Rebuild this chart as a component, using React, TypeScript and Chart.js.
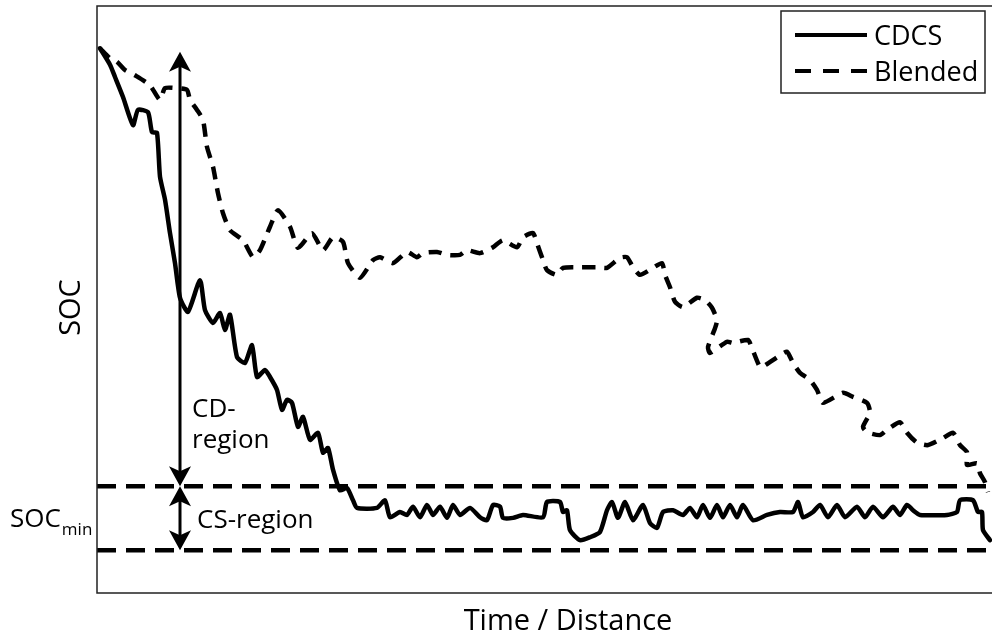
import { useEffect, useRef } from "react";
import { Chart, registerables } from "chart.js";

Chart.register(...registerables);

// Charge-depleting / charge-sustaining strategy (solid) vs. blended strategy (dashed)
const cdcsTime = [
  3, 13, 18, 26, 36, 41, 51, 55, 60, 63, 68, 73, 78, 83, 91, 103, 108, 116, 123, 128, 133,
  140, 148, 155, 160, 168, 173, 180, 185, 190, 195, 201, 206, 213, 221, 226, 231, 236, 243,
  250, 256, 260, 280, 288, 293, 303, 310, 316, 323, 330, 336, 343, 350, 356, 363, 373, 383,
  390, 396, 403, 406, 416, 426, 446, 450, 463, 466, 470, 473, 483, 493, 503, 510, 515, 521,
  528, 536, 546, 553, 560, 566, 576, 586, 593, 600, 606, 613, 620, 626, 633, 640, 646, 656,
  670, 683, 696, 701, 706, 716, 723, 731, 740, 748, 760, 768, 776, 786, 796, 803, 810, 816,
  823, 850, 860, 863, 876, 881, 885, 886, 893,
];
const cdcsSoc = [
  92.8, 90.0, 87.9, 84.5, 79.7, 82.3, 81.9, 78.5, 78.4, 70.9, 67.0, 61.3, 56.2, 50.3, 47.9,
  53.3, 48.2, 46.0, 47.7, 44.8, 47.4, 40.2, 39.2, 42.2, 36.8, 38.0, 36.8, 34.6, 31.2, 32.9,
  32.4, 28.3, 30.0, 26.1, 27.3, 23.9, 24.7, 21.0, 17.5, 17.9, 15.8, 14.5, 14.5, 15.8, 12.9,
  13.8, 13.3, 14.7, 12.9, 15.0, 13.3, 14.7, 12.8, 15.0, 13.3, 14.5, 12.9, 12.4, 15.0, 14.7,
  12.8, 12.8, 13.3, 12.9, 15.5, 15.5, 13.8, 14.1, 10.7, 9.0, 9.5, 10.4, 14.1, 15.5, 12.8,
  15.5, 12.4, 15.0, 11.9, 11.1, 13.8, 14.1, 13.3, 14.5, 12.9, 15.0, 12.8, 15.0, 12.9, 15.0,
  12.9, 15.0, 12.4, 13.3, 13.8, 13.8, 15.5, 12.9, 13.8, 15.0, 12.9, 15.0, 12.9, 14.7, 12.9,
  14.7, 12.9, 14.7, 13.3, 15.0, 14.1, 13.3, 13.3, 13.8, 15.8, 15.8, 13.8, 13.8, 10.7, 9.0,
];

const blendedTime = [
  3, 13, 20, 28, 38, 53, 63, 68, 80, 90, 93, 100, 106, 110, 116, 121, 126, 133, 146, 156,
  163, 173, 181, 193, 201, 215, 226, 236, 246, 251, 263, 276, 283, 296, 310, 320, 326, 340,
  350, 363, 370, 383, 396, 406, 420, 426, 436, 440, 446, 450, 460, 466, 483, 500, 510, 523,
  530, 536, 543, 556, 565, 568, 573, 578, 586, 600, 608, 615, 620, 618, 611, 613, 630, 636,
  651, 655, 663, 668, 683, 690, 696, 703, 713, 720, 726, 746, 756, 770, 773, 766, 770, 783,
  790, 803, 810, 820, 831, 846, 856, 863, 870, 870, 880, 883, 888, 891,
];
const blendedSoc = [
  92.8, 91.1, 90.5, 89.1, 88.2, 86.5, 84.0, 86.0, 86.0, 85.7, 84.0, 82.3, 80.6, 76.0, 72.6,
  68.1, 64.7, 61.8, 60.1, 57.2, 58.4, 62.4, 65.2, 62.4, 58.8, 61.3, 58.4, 60.6, 59.8, 56.2,
  53.7, 56.7, 57.2, 56.2, 58.1, 57.2, 57.9, 58.1, 57.6, 57.6, 58.4, 57.9, 58.9, 60.1, 58.9,
  60.6, 61.3, 59.6, 56.7, 55.0, 54.2, 55.4, 55.5, 55.5, 55.4, 57.1, 57.2, 55.5, 54.2, 55.4,
  56.2, 54.2, 52.1, 49.6, 48.7, 50.3, 49.9, 48.6, 46.5, 45.1, 41.9, 40.9, 42.8, 42.6, 43.1,
  41.7, 38.5, 38.8, 40.5, 41.1, 39.2, 37.5, 36.3, 34.6, 32.4, 34.1, 33.4, 32.4, 30.7, 28.3,
  27.4, 26.9, 27.8, 29.1, 27.3, 25.6, 25.2, 26.4, 27.3, 25.2, 24.0, 21.8, 22.1, 20.4, 18.9,
  17.2,
];

const seriesNames = ["CDCS", "Blended"];

// SOC levels marking the regions
const SOC_START = 92.2;
const SOC_CS_UPPER = 18.2;
const SOC_MIN = 7.3;
const ARROW_TIME = 83;
const TIME_MAX = 895;

const FONT = '"Open Sans", "DejaVu Sans", sans-serif';

function arrowHead(ctx: CanvasRenderingContext2D, x: number, tip: number, dir: number) {
  // dir = -1 : pointing up, dir = 1 : pointing down
  const len = 20;
  const half = 11;
  const notch = 5;
  ctx.beginPath();
  ctx.moveTo(x, tip);
  ctx.lineTo(x - half, tip - dir * len);
  ctx.lineTo(x, tip - dir * (len - notch));
  ctx.lineTo(x + half, tip - dir * len);
  ctx.closePath();
  ctx.fill();
}

const socDecorations = {
  id: "socDecorations",
  beforeDatasetsDraw(chart: any) {
    const { ctx, chartArea, scales } = chart;
    const y = scales.y;
    ctx.save();
    ctx.strokeStyle = "#000";
    ctx.lineWidth = 4.5;
    ctx.setLineDash([19, 10]);
    for (const level of [SOC_CS_UPPER, SOC_MIN]) {
      const py = y.getPixelForValue(level);
      ctx.beginPath();
      ctx.moveTo(chartArea.left, py);
      ctx.lineTo(chartArea.right, py);
      ctx.stroke();
    }
    ctx.restore();
  },
  afterDatasetsDraw(chart: any) {
    const { ctx, chartArea, scales } = chart;
    const xs = scales.x;
    const ys = scales.y;
    ctx.save();

    // frame (left, top, bottom)
    ctx.strokeStyle = "#222";
    ctx.lineWidth = 1.5;
    ctx.setLineDash([]);
    ctx.beginPath();
    ctx.moveTo(chartArea.right, chartArea.top);
    ctx.lineTo(chartArea.left, chartArea.top);
    ctx.lineTo(chartArea.left, chartArea.bottom);
    ctx.lineTo(chartArea.right, chartArea.bottom);
    ctx.stroke();

    // region arrows
    const ax = xs.getPixelForValue(ARROW_TIME);
    const yStart = ys.getPixelForValue(SOC_START);
    const yUpper = ys.getPixelForValue(SOC_CS_UPPER);
    const yMin = ys.getPixelForValue(SOC_MIN);
    ctx.fillStyle = "#000";
    ctx.strokeStyle = "#000";
    ctx.lineWidth = 3;
    ctx.beginPath();
    ctx.moveTo(ax, yStart + 10);
    ctx.lineTo(ax, yUpper - 10);
    ctx.stroke();
    arrowHead(ctx, ax, yStart, -1);
    arrowHead(ctx, ax, yUpper, 1);
    ctx.beginPath();
    ctx.moveTo(ax, yUpper + 10);
    ctx.lineTo(ax, yMin - 10);
    ctx.stroke();
    arrowHead(ctx, ax, yUpper, -1);
    arrowHead(ctx, ax, yMin, 1);

    // region labels
    const yMid = (yUpper + yMin) / 2;
    ctx.font = `26px ${FONT}`;
    ctx.textAlign = "left";
    ctx.textBaseline = "alphabetic";
    ctx.fillText("CD-", ax + 12, yUpper - 69);
    ctx.fillText("region", ax + 12, yUpper - 38);
    ctx.fillText("CS-region", ax + 17, yMid + 10);

    // SOC_min label
    ctx.fillText("SOC", 10, yMid + 9);
    const socW = ctx.measureText("SOC").width;
    ctx.font = `17px ${FONT}`;
    ctx.fillText("min", 10 + socW + 1, yMid + 17);

    // axis titles
    ctx.font = `29px ${FONT}`;
    ctx.textAlign = "center";
    ctx.fillText("Time / Distance", 568, chartArea.bottom + 37);
    ctx.save();
    ctx.translate(80, (chartArea.top + chartArea.bottom) / 2 + 8);
    ctx.rotate(-Math.PI / 2);
    ctx.fillText("SOC", 0, 0);
    ctx.restore();

    // legend
    const lx = 781;
    const ly = 11;
    const lw = 204;
    const lh = 82;
    ctx.fillStyle = "#fff";
    ctx.fillRect(lx, ly, lw, lh);
    ctx.strokeStyle = "#222";
    ctx.lineWidth = 1.5;
    ctx.strokeRect(lx, ly, lw, lh);
    ctx.strokeStyle = "#000";
    ctx.lineWidth = 4;
    const rows = [
      { name: seriesNames[0], dash: [] as number[], y: ly + 24 },
      { name: seriesNames[1], dash: [16, 12], y: ly + 60 },
    ];
    ctx.font = `27px ${FONT}`;
    ctx.textAlign = "left";
    ctx.fillStyle = "#000";
    for (const r of rows) {
      ctx.setLineDash(r.dash);
      ctx.beginPath();
      ctx.moveTo(lx + 14, r.y);
      ctx.lineTo(lx + 86, r.y);
      ctx.stroke();
      ctx.fillText(r.name, lx + 93, r.y + 10);
    }
    ctx.restore();
  },
};

export default function App() {
  const canvasRef = useRef<HTMLCanvasElement | null>(null);

  useEffect(() => {
    document.body.style.margin = "0";
    const canvas = canvasRef.current;
    if (!canvas) return;
    const chart = new Chart(canvas, {
      type: "line",
      data: {
        datasets: [
          {
            label: seriesNames[0],
            data: cdcsTime.map((t, i) => ({ x: t, y: cdcsSoc[i] })),
            borderColor: "#000",
            borderWidth: 4.5,
            pointRadius: 0,
            tension: 0.2,
            borderJoinStyle: "round",
            borderCapStyle: "round",
          },
          {
            label: seriesNames[1],
            data: blendedTime.map((t, i) => ({ x: t, y: blendedSoc[i] })),
            borderColor: "#000",
            borderWidth: 4.5,
            borderDash: [13, 9],
            pointRadius: 0,
            tension: 0.2,
            borderJoinStyle: "round",
          },
        ],
      },
      options: {
        responsive: false,
        devicePixelRatio: 1,
        animation: false,
        parsing: false as any,
        layout: { padding: { left: 97, top: 6, right: 0, bottom: 41 } },
        scales: {
          x: { type: "linear", min: 0, max: TIME_MAX, display: false },
          y: { type: "linear", min: 0, max: 100, display: false },
        },
        plugins: {
          legend: { display: false },
          tooltip: { enabled: false },
        },
      },
      plugins: [socDecorations],
    });
    return () => chart.destroy();
  }, []);

  return (
    <div style={{ width: 992, height: 634, background: "#fff" }}>
      <canvas ref={canvasRef} width={992} height={634} style={{ display: "block" }} />
    </div>
  );
}
